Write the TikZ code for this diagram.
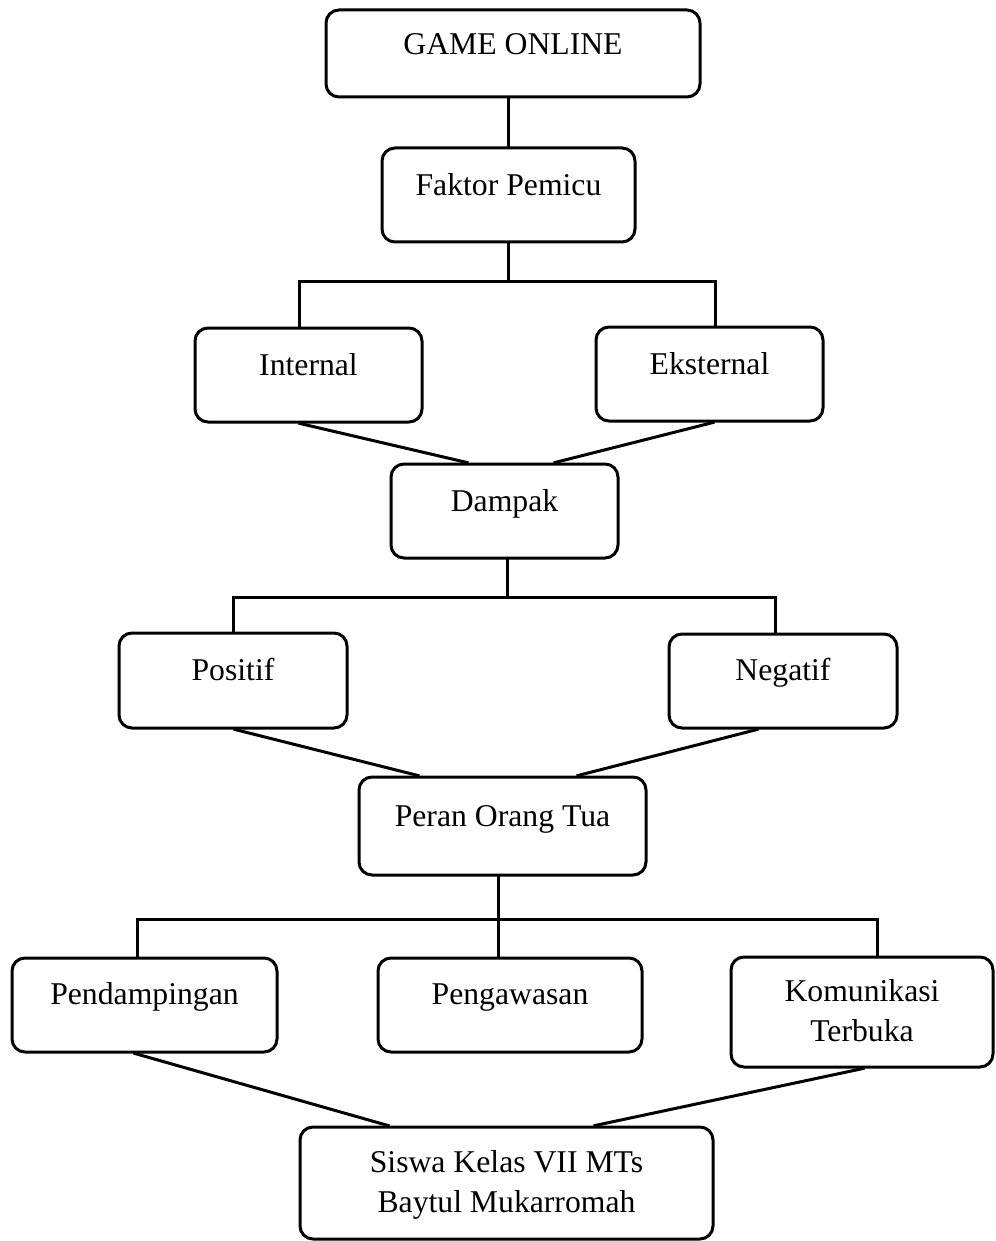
\documentclass[tikz,border=0pt]{standalone}
\usepackage{fontspec}
\setmainfont{Liberation Serif}
\usetikzlibrary{calc}
\tikzset{
  box/.style={draw, line width=3pt, rounded corners=13pt, inner sep=0pt,
    align=center, anchor=base, font=\fontsize{31.7}{40}\selectfont},
  conn/.style={line width=3pt, line cap=rect}
}
\begin{document}
\begin{tikzpicture}[x=1pt,y=-1pt]
\useasboundingbox (0,0) rectangle (995,1241);
% boxes
\node[box, minimum width=374pt, text height=45pt, text depth=42pt] (game) at (513,55) {GAME ONLINE};
\node[box, minimum width=253pt, text height=48pt, text depth=46pt] (faktor) at (508.5,196) {Faktor Pemicu};
\node[box, minimum width=227pt, text height=47pt, text depth=47pt] (internal) at (308.5,375) {Internal};
\node[box, minimum width=227pt, text height=47pt, text depth=47pt] (eksternal) at (709.5,374) {Eksternal};
\node[box, minimum width=227pt, text height=47pt, text depth=47pt] (dampak) at (504.5,511) {Dampak};
\node[box, minimum width=228pt, text height=47pt, text depth=48pt] (positif) at (233,680) {Positif};
\node[box, minimum width=228pt, text height=46pt, text depth=48pt] (negatif) at (783,680) {Negatif};
\node[box, minimum width=287pt, text height=49pt, text depth=49pt] (peran) at (502.5,826) {Peran Orang Tua};
\node[box, minimum width=265pt, text height=46pt, text depth=48pt] (pendampingan) at (144.5,1004) {Pendampingan};
\node[box, minimum width=264pt, text height=46pt, text depth=48pt] (pengawasan) at (510,1004) {Pengawasan};
\node[box, minimum width=262pt, text height=84pt, text depth=26pt] (komunikasi) at (862,1041) {Komunikasi\\Terbuka};
\node[box, minimum width=413pt, text height=85pt, text depth=27pt] (siswa) at (506.5,1212) {Siswa Kelas VII MTs\\Baytul Mukarromah};
% bus coordinates
\coordinate (b1L) at (299,281);
\coordinate (b1R) at (715,281);
\coordinate (b1M) at (508.5,281);
\coordinate (b2L) at (233,597);
\coordinate (b2R) at (775,597);
\coordinate (b2M) at (507,597);
\coordinate (b3L) at (137,919);
\coordinate (b3C) at (498,919);
\coordinate (b3R) at (877,919);
% connectors
\draw[conn] (faktor.north) -- (faktor.north |- game.south);
\draw[conn] (faktor.south) -- (b1M);
\draw[conn] (b1L |- internal.north) -- (b1L) -- (b1R) -- (b1R |- eksternal.north);
\draw[conn] ($(internal.south)+(-8.5,0)$) -- ($(dampak.north)+(-37.5,0)$);
\draw[conn] ($(eksternal.south)+(3.5,0)$) -- ($(dampak.north)+(50.5,0)$);
\draw[conn] (b2M |- dampak.south) -- (b2M);
\draw[conn] (b2L |- positif.north) -- (b2L) -- (b2R) -- (b2R |- negatif.north);
\draw[conn] ($(positif.south)+(2,0)$) -- ($(peran.north)+(-84.5,0)$);
\draw[conn] ($(negatif.south)+(-26,0)$) -- ($(peran.north)+(75.5,0)$);
\draw[conn] (b3C |- peran.south) -- (b3C);
\draw[conn] (b3L |- pendampingan.north) -- (b3L) -- (b3R) -- (b3R |- komunikasi.north);
\draw[conn] (b3C) -- (b3C |- pengawasan.north);
\draw[conn] ($(pendampingan.south)+(-9.5,0)$) -- ($(siswa.north)+(-118.5,0)$);
\draw[conn] ($(komunikasi.south)+(1,0)$) -- ($(siswa.north)+(88.5,0)$);
\end{tikzpicture}
\end{document}
